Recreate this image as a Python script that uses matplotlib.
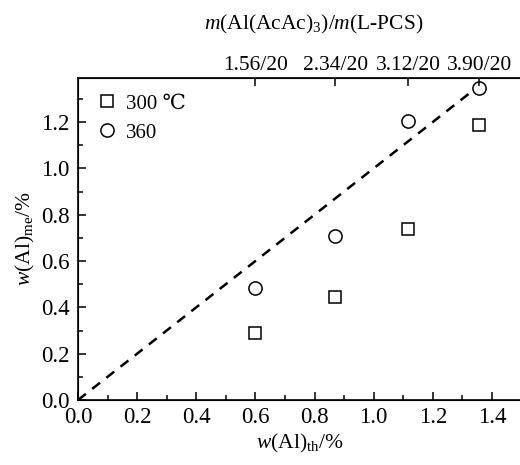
import matplotlib
matplotlib.use('Agg')
import matplotlib.pyplot as plt
from matplotlib.ticker import MultipleLocator

plt.rcParams['font.family'] = ['Liberation Serif', 'DejaVu Serif', 'Noto Sans CJK SC']
plt.rcParams['mathtext.fontset'] = 'custom'
plt.rcParams['mathtext.rm'] = 'Liberation Serif'
plt.rcParams['mathtext.it'] = 'Liberation Serif:italic'
plt.rcParams['font.size'] = 15.5

# data
w_th = [0.60, 0.87, 1.117, 1.357]
w_300 = [0.29, 0.445, 0.74, 1.185]
w_360 = [0.485, 0.71, 1.205, 1.345]
top_labels = ['1.56/20', '2.34/20', '3.12/20', '3.90/20']
ref_line = [0.0, 1.5]

fig = plt.figure(figsize=(5.2, 4.65), dpi=100)
ax = fig.add_axes([78/520, 65/465, 443.5/520, 322/465])

ax.plot(ref_line, ref_line, color='black', lw=1.8, dashes=(4, 3.2))
ax.plot(w_th, w_300, ls='none', marker='s', ms=8.5, mfc='white', mec='black',
        mew=1.1, label='300 \u2103')
ax.plot(w_th, w_360, ls='none', marker='o', ms=9.5, mfc='white', mec='black',
        mew=1.1, label='360')

ax.set_xlim(0, 1.5)
ax.set_ylim(0, 1.39)
ax.xaxis.set_major_locator(MultipleLocator(0.2))
ax.xaxis.set_minor_locator(MultipleLocator(0.1))
ax.yaxis.set_major_locator(MultipleLocator(0.2))
ax.yaxis.set_minor_locator(MultipleLocator(0.1))
ax.tick_params(which='both', direction='in', width=1.1, labelsize=16.5)
ax.tick_params(which='major', length=6)
ax.tick_params(which='minor', length=3.5)
ax.tick_params(axis='x', pad=5)
ax.tick_params(axis='y', pad=6)
for s in ax.spines.values():
    s.set_linewidth(1.2)
ax.spines['right'].set_visible(False)

ax.set_xlabel(r'$w$(Al)$_{\mathrm{th}}$/%', labelpad=3)
ax.set_ylabel(r'$w$(Al)$_{\mathrm{me}}$/%', labelpad=3)

# top axis
ax2 = ax.twiny()
ax2.set_xlim(ax.get_xlim())
ax2.set_xticks(w_th)
ax2.set_xticklabels(top_labels)
ax2.tick_params(direction='in', length=6, width=1.1, labelsize=15.5, pad=2)
ax2.spines['right'].set_visible(False)
ax2.set_xlabel(r'$m$(Al(AcAc)$_3$)/$m$(L-PCS)', labelpad=19)
ax2.xaxis.label.set_x(0.532)

leg = ax.legend(loc='upper left', frameon=False, handletextpad=0.4,
                borderaxespad=0.3, labelspacing=0.45, handlelength=1.0,
                bbox_to_anchor=(0.01, 0.995), fontsize=15)

fig.savefig('out.png', dpi=100)
